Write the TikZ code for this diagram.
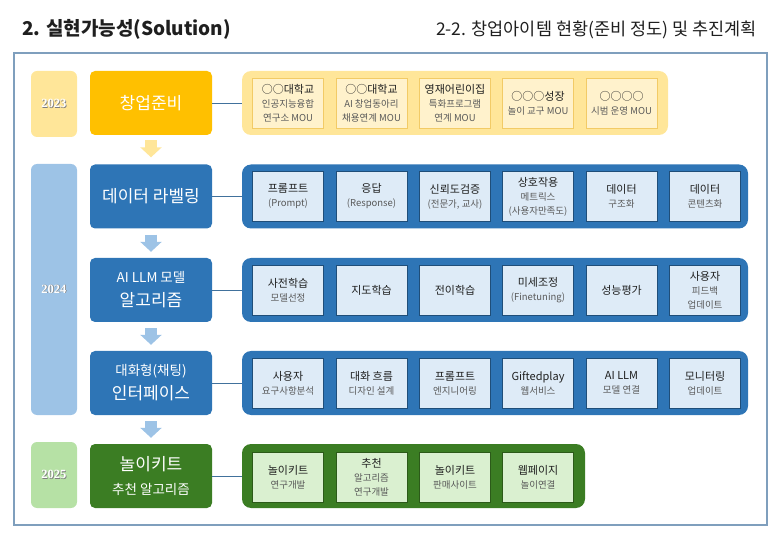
\documentclass[tikz,border=0pt]{standalone}
\usepackage{fontspec}
\setmainfont{Noto Sans CJK KR}
\newfontfamily\yearfont{Liberation Serif}
\usetikzlibrary{arrows.meta}

\definecolor{titlegray}{HTML}{1F1F1F}
\definecolor{subgray}{HTML}{595959}
\definecolor{frameblue}{HTML}{7F9FBD}
\definecolor{linkblue}{HTML}{41719C}
\definecolor{yearshadow}{HTML}{7F7F7F}
\definecolor{gold}{HTML}{FFC000}
\definecolor{goldlight}{HTML}{FFE699}
\definecolor{goldpale}{HTML}{FFF2CC}
\definecolor{goldline}{HTML}{F2CB66}
\definecolor{mainblue}{HTML}{2E75B6}
\definecolor{bluelight}{HTML}{9DC3E6}
\definecolor{bluepale}{HTML}{DEEBF7}
\definecolor{blueline}{HTML}{1F4E79}
\definecolor{maingreen}{HTML}{3B7D23}
\definecolor{greenlight}{HTML}{B6E1A5}
\definecolor{greenpale}{HTML}{DAF0D0}
\definecolor{greenline}{HTML}{2C5A19}

\newcommand\shadowtext[1]{\rlap{\hspace{0.7pt}\raisebox{-0.7pt}{\color{yearshadow}#1}}#1}
\newcommand\subtxt[1]{{\color{subgray}\fontsize{9.5}{14}\selectfont #1}}

\tikzset{
  yearbox/.style={rounded corners=6pt, minimum width=46pt, inner sep=0pt,
    text=white, font=\yearfont\bfseries\fontsize{12.5}{14}\selectfont},
  mainbox/.style={rounded corners=5pt, minimum width=122pt, minimum height=64pt,
    inner sep=0pt, text=white, align=center, font=\fontsize{17}{24}\selectfont},
  group/.style={rounded corners=9pt, minimum height=64pt, inner sep=0pt},
  item/.style={draw, line width=0.7pt, minimum width=71pt, minimum height=50pt,
    inner sep=0pt, align=center, text=titlegray, font=\fontsize{11}{14}\selectfont},
  link/.style={draw=linkblue, line width=0.9pt},
  flow/.style={line width=12pt, -{Triangle[width=21pt,length=10pt]}}
}

\begin{document}
\begin{tikzpicture}[x=1pt,y=-1pt]
  \useasboundingbox (0,0) rectangle (780,540);
  \node[anchor=base west, inner sep=0pt, text=titlegray, font=\bfseries\fontsize{19}{22}\selectfont]
    (title) at (22,36) {2. 실현가능성(Solution)};
  \node[anchor=base east, inner sep=0pt, text=titlegray, font=\fontsize{17.5}{20}\selectfont]
    (subtitle) at (757,36) {2-2. 창업아이템 현황(준비 정도) 및 추진계획};
  \draw[frameblue, line width=1.3pt] (14,53) rectangle (767,525);

  % years
  \node[yearbox, fill=goldlight, minimum height=66pt] (y23) at (54,104) {\shadowtext{2023}};
  \node[yearbox, fill=bluelight, minimum height=251pt] (y24) at (54,289.5) {\shadowtext{2024}};
  \node[yearbox, fill=greenlight, minimum height=66pt] (y25) at (54,475) {\shadowtext{2025}};

  % steps
  \node[mainbox, fill=gold] (m1) at (151,103) {창업준비};
  \node[mainbox, fill=mainblue] (m2) at (151,196.5) {데이터 라벨링};
  \node[mainbox, fill=mainblue] (m3) at (151,290)
    {{\fontsize{13.5}{24}\selectfont AI LLM 모델}\\알고리즘};
  \node[mainbox, fill=mainblue] (m4) at (151,383)
    {{\fontsize{13.5}{24}\selectfont 대화형(채팅)}\\인터페이스};
  \node[mainbox, fill=maingreen] (m5) at (151,476)
    {놀이키트\\{\fontsize{13.5}{24}\selectfont 추천 알고리즘}};

  \draw[flow, goldlight] ([yshift=-5pt]m1.south) -- ([yshift=7pt]m2.north);
  \draw[flow, bluelight] ([yshift=-6pt]m2.south) -- ([yshift=6pt]m3.north);
  \draw[flow, bluelight] ([yshift=-6pt]m3.south) -- ([yshift=6pt]m4.north);
  \draw[flow, bluelight] ([yshift=-6pt]m4.south) -- ([yshift=6pt]m5.north);

  % groups
  \node[group, fill=goldlight, minimum width=426pt] (g1) at (455,103) {};
  \node[group, fill=mainblue, minimum width=506pt] (g2) at (495,196.5) {};
  \node[group, fill=mainblue, minimum width=506pt] (g3) at (495,290) {};
  \node[group, fill=mainblue, minimum width=506pt] (g4) at (495,383) {};
  \node[group, fill=maingreen, minimum width=343pt] (g5) at (413.5,476) {};
  \begin{scope}[link]
    \draw (m1) -- (g1);
    \draw (m2) -- (g2);
    \draw (m3) -- (g3);
    \draw (m4) -- (g4);
    \draw (m5) -- (g5);
  \end{scope}

  % 2023
  \begin{scope}[every node/.style={item, fill=goldpale, draw=goldline}]
    \node (i11) at (288,103) {○○대학교\\\subtxt{인공지능융합}\\\subtxt{연구소 MOU}};
    \node (i12) at (371.5,103) {○○대학교\\\subtxt{AI 창업동아리}\\\subtxt{채용연계 MOU}};
    \node (i13) at (455,103) {영재어린이집\\\subtxt{특화프로그램}\\\subtxt{연계 MOU}};
    \node (i14) at (538,103) {○○○성장\\\subtxt{놀이 교구 MOU}};
    \node (i15) at (621.5,103) {○○○○\\\subtxt{시범 운영 MOU}};
  \end{scope}

  % 2024
  \begin{scope}[every node/.style={item, fill=bluepale, draw=blueline}]
    \node (i21) at (288,196.5) {프롬프트\\\subtxt{(Prompt)}};
    \node (i22) at (371.5,196.5) {응답\\\subtxt{(Response)}};
    \node (i23) at (455,196.5) {신뢰도검증\\\subtxt{(전문가, 교사)}};
    \node (i24) at (538,196.5) {상호작용\\\subtxt{메트릭스}\\\subtxt{(사용자만족도)}};
    \node (i25) at (621.5,196.5) {데이터\\\subtxt{구조화}};
    \node (i26) at (705,196.5) {데이터\\\subtxt{콘텐츠화}};
    \node (i31) at (288,290) {사전학습\\\subtxt{모델선정}};
    \node (i32) at (371.5,290) {지도학습};
    \node (i33) at (455,290) {전이학습};
    \node (i34) at (538,290) {미세조정\\\subtxt{(Finetuning)}};
    \node (i35) at (621.5,290) {성능평가};
    \node (i36) at (705,290) {사용자\\\subtxt{피드백}\\\subtxt{업데이트}};
    \node (i41) at (288,383) {사용자\\\subtxt{요구사항분석}};
    \node (i42) at (371.5,383) {대화 흐름\\\subtxt{디자인 설계}};
    \node (i43) at (455,383) {프롬프트\\\subtxt{엔지니어링}};
    \node (i44) at (538,383) {Giftedplay\\\subtxt{웹서비스}};
    \node (i45) at (621.5,383) {AI LLM\\\subtxt{모델 연결}};
    \node (i46) at (705,383) {모니터링\\\subtxt{업데이트}};
  \end{scope}

  % 2025
  \begin{scope}[every node/.style={item, fill=greenpale, draw=greenline}]
    \node (i51) at (288,477) {놀이키트\\\subtxt{연구개발}};
    \node (i52) at (371.5,477) {추천\\\subtxt{알고리즘}\\\subtxt{연구개발}};
    \node (i53) at (455,477) {놀이키트\\\subtxt{판매사이트}};
    \node (i54) at (538,477) {웹페이지\\\subtxt{놀이연결}};
  \end{scope}
\end{tikzpicture}
\end{document}
